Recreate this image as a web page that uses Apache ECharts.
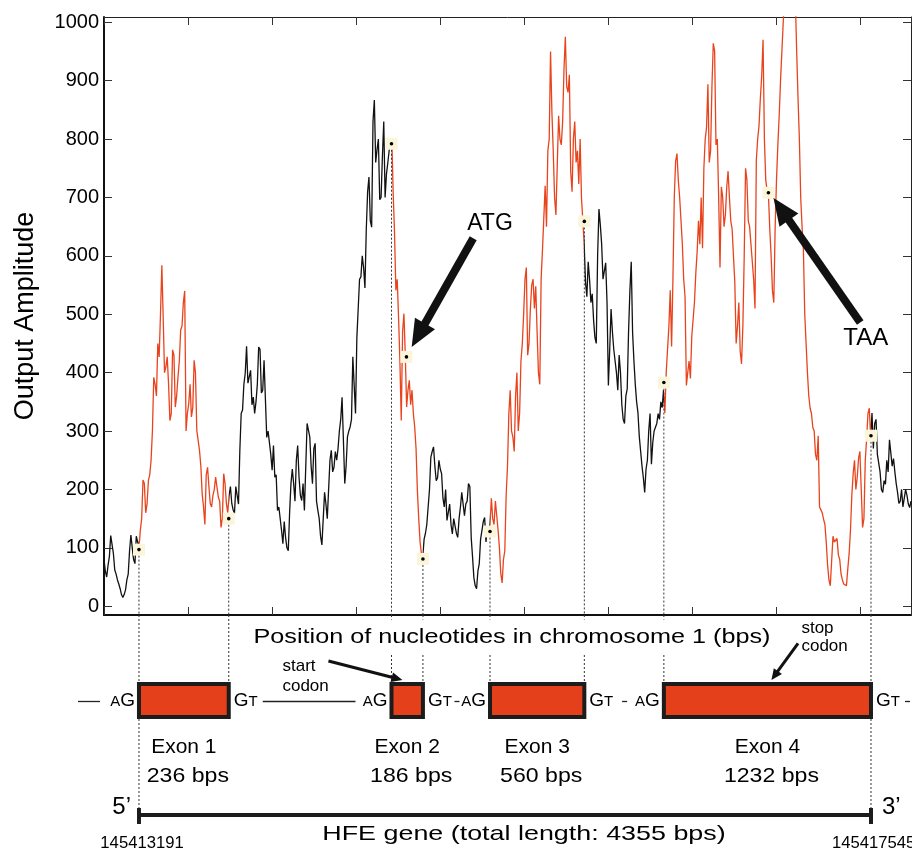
<!DOCTYPE html>
<html><head><meta charset="utf-8">
<script src="https://cdn.jsdelivr.net/npm/echarts@6/dist/echarts.min.js"></script>
<style>html,body{margin:0;padding:0;background:#fff}#c{width:912px;height:854px}</style>
</head><body><div id="c"></div>
<script>
// ---------- data ----------
const STEP = 8;                // bp between signal samples (x = index * STEP, offset from axis start)
const X_MAX = 4800;
const SIGNAL = [
 // upstream
 80,60,50,70,85,121,118,90,62,55,45,38,30,20,15,20,28,45,55,95,122,100,80,73,120,110,100,
 // exon 1
 130,150,216,210,160,175,215,225,250,300,392,380,360,450,427,500,584,495,400,410,427,380,318,330,439,430,341,360,392,420,473,480,520,540,300,330,347,380,324,340,421,400,301,300,267,240,192,170,140,225,238,205,176,170,190,200,221,220,187,180,135,150,227,210,176,160,
 // intron 1
 190,205,176,165,159,205,190,175,267,330,336,380,399,445,382,385,404,345,358,330,350,380,444,440,365,370,421,420,289,300,300,260,233,275,221,225,164,170,170,130,107,145,118,100,95,160,210,235,210,180,250,275,221,190,181,210,164,165,313,310,290,240,210,270,279,180,164,150,120,105,107,195,175,150,152,250,267,230,238,265,250,270,300,320,358,360,210,240,290,300,307,320,427,425,330,460,510,560,564,600,580,545,645,710,735,660,649,830,867,760,782,800,696,700,770,830,700,740,759,780,
 // exon 2
 793,800,707,640,541,560,495,420,318,470,501,430,341,370,387,345,370,330,307,270,198,150,110,90,
 // intron 2
 85,115,125,140,170,200,255,265,273,240,215,220,250,235,227,185,170,200,147,150,175,140,124,150,152,125,118,150,170,195,198,155,175,180,210,205,118,85,49,35,30,60,73,115,130,145,152,110,135,130,
 // exon 3
 140,185,150,140,180,155,130,100,56,40,80,95,190,240,330,370,300,290,265,360,400,300,330,420,449,500,560,580,430,450,509,550,560,510,548,470,400,380,560,610,665,720,650,780,800,950,847,780,700,670,756,840,800,790,830,920,975,890,880,910,744,710,800,830,760,780,723,800,700,660,
 // intron 3
 620,555,530,590,560,520,535,490,460,450,600,680,653,620,560,560,588,520,378,440,509,470,440,420,400,370,430,400,345,320,313,360,372,470,540,590,469,420,380,350,331,290,265,240,220,195,235,250,300,330,243,280,300,300,313,330,320,350,
 // exon 4
 340,370,331,400,440,480,541,445,560,700,762,775,729,700,660,620,560,530,378,400,420,390,462,460,520,570,607,660,620,700,613,750,800,820,894,760,780,890,964,950,790,800,700,580,718,700,650,670,718,745,700,660,646,600,555,450,480,520,437,415,480,600,750,730,660,650,620,620,560,510,764,800,823,870,908,970,800,730,712,705,646,600,540,520,650,730,790,840,900,950,1000,1040,1060,1060,1060,1060,1060,1050,1050,1040,950,870,800,700,650,610,500,450,400,360,339,330,306,300,260,250,292,170,165,160,149,140,109,70,45,35,34,120,110,110,116,88,80,55,45,38,40,35,64,90,130,190,227,250,200,220,253,265,200,135,150,250,286,330,339,290,
 // downstream
 331,270,313,320,260,245,230,200,195,215,209,250,230,285,286,240,253,230,210,195,176,180,200,170,169,200,190,175,169,180
];
const EXON_NAMES = ['Exon 1', 'Exon 2', 'Exon 3', 'Exon 4'];
const EXON_LENGTHS = ['236 bps', '186 bps', '560 bps', '1232 bps'];
const EXON_START = [208, 1710, 2296, 3330];
const EXON_END = [742, 1897, 2857, 4562];
const EXON_START_VALUES = [97, 792, 128, 383];
const EXON_END_VALUES = [150, 81, 659, 292];
const CODON_LABELS = ['ATG', 'TAA'];
const CODON_NAMES = ['start\ncodon', 'stop\ncodon'];
const CODON_POS = [1799, 3952];
const CODON_VALUES = [427, 708];
const ARROW_TAIL = [[2196, 630], [4498, 486]];
const ARROW_TIP = [[1830, 444], [3982, 699]];
const LABEL_AT = [[2296, 655], [4531, 459]];
const Y_TICKS = [0, 100, 200, 300, 400, 500, 600, 700, 800, 900, 1000];
const GENE_START_LABEL = '145413191';
const GENE_END_LABEL = '145417545';
const X_TITLE = 'Position of nucleotides in chromosome 1 (bps)';
const GENE_TITLE = 'HFE gene (total length: 4355 bps)';
const Y_TITLE = 'Output Amplitude';

// ---------- styles ----------
const FONT = "'Liberation Sans', Arial, Helvetica, sans-serif";
const RED = '#e8431d', RED_FILL = '#e4401b', BLACK = '#111111';
const f = s => s + 'px ' + FONT;
function txt(x, y, text, size, align, opt) {
  opt = opt || {};
  const style = Object.assign({
    text: text, font: f(size), fill: '#000',
    align: align, textAlign: align, verticalAlign: 'middle', textVerticalAlign: 'middle'
  }, opt.style || {});
  return { type: 'text', x: x, y: y, scaleX: opt.scaleX || 1, z2: opt.z2 || 10, style: style };
}
function arrow(p0, p1, w, hl, hw, color) {
  const dx = p1[0] - p0[0], dy = p1[1] - p0[1], L = Math.hypot(dx, dy);
  const ux = dx / L, uy = dy / L, nx = -uy, ny = ux;
  const bx = p1[0] - ux * hl, by = p1[1] - uy * hl;
  return [
    { type: 'line', shape: { x1: p0[0], y1: p0[1], x2: bx + ux * 2, y2: by + uy * 2 }, style: { stroke: color, lineWidth: w }, z2: 20 },
    { type: 'polygon', shape: { points: [[p1[0], p1[1]], [bx + nx * hw / 2, by + ny * hw / 2], [bx - nx * hw / 2, by - ny * hw / 2]] }, style: { fill: color }, z2: 20 }
  ];
}

// pieces for colouring the signal (red inside exons)
const pieces = [];
EXON_START.forEach((s, i) => {
  pieces.push(i === 0 ? { lt: s, color: BLACK } : { gt: EXON_END[i - 1], lt: s, color: BLACK });
  pieces.push({ gte: s, lte: EXON_END[i], color: RED });
});
pieces.push({ gt: EXON_END[EXON_END.length - 1], color: BLACK });

const markerData = [];
EXON_START.forEach((s, i) => { markerData.push([s, EXON_START_VALUES[i], 1]); markerData.push([EXON_END[i], EXON_END_VALUES[i], 1]); });
CODON_POS.forEach((p, i) => markerData.push([p, CODON_VALUES[i], 0]));

const arrowData = ARROW_TAIL.map((t, i) => [t[0], t[1], ARROW_TIP[i][0], ARROW_TIP[i][1], LABEL_AT[i][0], LABEL_AT[i][1], i]);
const exonData = EXON_START.map((s, i) => [s, EXON_END[i], i]);

const chart = echarts.init(document.getElementById('c'), null, { renderer: 'canvas' });
const tickStyle = { show: true, inside: true, length: 8, lineStyle: { color: '#333', width: 1 } };

chart.setOption({
  animation: false,
  backgroundColor: '#fff',
  grid: [
    { left: 104, top: 17, width: 807, height: 598 },
    { left: 104, top: 615, width: 807, height: 239 }
  ],
  xAxis: [
    { gridIndex: 0, type: 'value', min: 0, max: X_MAX, interval: 500, position: 'bottom',
      axisLine: { show: true, onZero: false, lineStyle: { color: '#111', width: 2 } },
      axisTick: tickStyle, axisLabel: { show: false }, splitLine: { show: false } },
    { gridIndex: 0, type: 'value', min: 0, max: X_MAX, interval: 500, position: 'top',
      axisLine: { show: true, onZero: false, lineStyle: { color: '#222', width: 1 } },
      axisTick: tickStyle, axisLabel: { show: false }, splitLine: { show: false } },
    { gridIndex: 1, type: 'value', min: 0, max: X_MAX, show: false }
  ],
  yAxis: [
    { gridIndex: 0, type: 'value', min: -15, max: 1009, position: 'left',
      name: Y_TITLE, nameLocation: 'middle', nameGap: 65,
      nameTextStyle: { fontSize: 27, fontFamily: FONT, color: '#000' },
      axisLine: { show: true, onZero: false, lineStyle: { color: '#111', width: 2 } },
      axisTick: Object.assign({ customValues: Y_TICKS }, tickStyle),
      axisLabel: { customValues: Y_TICKS, formatter: v => String(v), fontSize: 20, fontFamily: FONT, color: '#000', margin: 5 },
      splitLine: { show: false } },
    { gridIndex: 0, type: 'value', min: -15, max: 1009, position: 'right',
      axisLine: { show: true, onZero: false, lineStyle: { color: '#222', width: 1 } },
      axisTick: Object.assign({ customValues: Y_TICKS }, tickStyle),
      axisLabel: { show: false }, splitLine: { show: false } },
    { gridIndex: 1, type: 'value', min: 0, max: 239, inverse: true, show: false }
  ],
  visualMap: { type: 'piecewise', show: false, dimension: 0, seriesIndex: 0, pieces: pieces },
  series: [
    { type: 'line', xAxisIndex: 0, yAxisIndex: 0, symbol: 'none', clip: true, z: 2,
      lineStyle: { width: 1.3 }, data: SIGNAL.map((v, i) => [i * STEP, v]) },
    { type: 'custom', xAxisIndex: 0, yAxisIndex: 0, z: 5, data: markerData,
      renderItem: function (params, api) {
        const p = api.coord([api.value(0), api.value(1)]);
        const bottom = params.coordSys.y + params.coordSys.height;
        const ch = [];
        if (api.value(2)) ch.push({ type: 'line', shape: { x1: p[0], y1: p[1] + 6, x2: p[0], y2: bottom }, style: { stroke: '#333', lineWidth: 1, lineDash: [2, 2] } });
        ch.push({ type: 'rect', shape: { x: p[0] - 6, y: p[1] - 6, width: 12, height: 12 }, style: { fill: '#fbf5da' } });
        ch.push({ type: 'circle', shape: { cx: p[0], cy: p[1], r: 1.8 }, style: { fill: '#000' } });
        return { type: 'group', children: ch };
      } },
    { type: 'custom', xAxisIndex: 0, yAxisIndex: 0, z: 6, data: arrowData,
      renderItem: function (params, api) {
        const t = api.coord([api.value(0), api.value(1)]);
        const h = api.coord([api.value(2), api.value(3)]);
        const l = api.coord([api.value(4), api.value(5)]);
        const k = api.value(6);
        const ch = arrow(t, h, 8, 27, 23, '#111');
        ch.push(txt(l[0], l[1], CODON_LABELS[k], k === 0 ? 23 : 24, 'center'));
        return { type: 'group', children: ch };
      } },
    { type: 'custom', xAxisIndex: 2, yAxisIndex: 2, z: 3, data: exonData,
      renderItem: function (params, api) {
        const k = api.value(2);
        const x0 = api.coord([api.value(0), 0])[0];
        const x1 = api.coord([api.value(1), 0])[0];
        const Y = v => api.coord([0, v])[1];
        const last = EXON_START.length - 1;
        const ch = [];
        const dot = (x, a, b) => ({ type: 'line', shape: { x1: x, y1: Y(a), x2: x, y2: Y(b) }, style: { stroke: '#333', lineWidth: 1, lineDash: [2, 2] }, z2: 1 });
        const seg = (a, b) => ({ type: 'line', shape: { x1: a, y1: Y(86.5), x2: b, y2: Y(86.5) }, style: { stroke: '#222', lineWidth: 1.3 }, z2: 2 });
        ch.push(dot(x0, 0, 67), dot(x1, 0, 67));
        if (k === 0) ch.push(dot(x0, 104, 200));
        if (k === last) ch.push(dot(x1, 104, 200));
        ch.push({ type: 'rect', shape: { x: x0, y: Y(69), width: x1 - x0, height: 33 }, style: { fill: RED_FILL, stroke: '#1c1c1c', lineWidth: 4 }, z2: 5 });
        const rich = { s: { font: f(15), verticalAlign: 'bottom', padding: [0, 0, 1, 0] }, b: { font: f(19), verticalAlign: 'bottom' } };
        ch.push(txt(x0 - 4, Y(86), '{s|A}{b|G}', 19, 'right', { style: { rich: rich } }));
        ch.push(txt(x1 + 5, Y(86), '{b|G}{s|T}', 19, 'left', { style: { rich: rich } }));
        if (k === 0) ch.push(seg(x0 - 61, x0 - 39));
        if (k < last) {
          const nx = api.coord([EXON_START[k + 1], 0])[0];
          const a = x1 + 34, b = nx - 36;
          if (b - a > 40) ch.push(seg(a, b));
          else { const m = ((x1 + 31) + (nx - 30)) / 2; ch.push(seg(m - 2.5, m + 2.5)); }
        } else {
          ch.push(seg(x1 + 34, x1 + 39));
        }
        const cx = (x0 + x1) / 2;
        ch.push(txt(cx, Y(132.5), EXON_NAMES[k], 21, 'center'));
        ch.push(txt(cx + 4, Y(161), EXON_LENGTHS[k], 21, 'center', { scaleX: 1.1 }));
        return { type: 'group', children: ch };
      } },
    { type: 'custom', xAxisIndex: 2, yAxisIndex: 2, z: 4, data: [[0, 0]],
      renderItem: function (params, api) {
        const X = v => api.coord([v, 0])[0];
        const Y = v => api.coord([0, v])[1];
        const gs = X(EXON_START[0]), ge = X(EXON_END[EXON_END.length - 1]);
        const mid = (gs + ge) / 2;
        const ch = [];
        ch.push(txt(mid + 7, Y(22), X_TITLE, 21, 'center', { scaleX: 1.2, style: { backgroundColor: '#fff', padding: [7, 4, 7, 4] } }));
        ch.push({ type: 'line', shape: { x1: gs, y1: Y(200), x2: ge, y2: Y(200) }, style: { stroke: '#1c1c1c', lineWidth: 4 } });
        ch.push({ type: 'rect', shape: { x: gs - 2, y: Y(193), width: 4, height: 16 }, style: { fill: '#1c1c1c' } });
        ch.push({ type: 'rect', shape: { x: ge - 2, y: Y(193), width: 4, height: 16 }, style: { fill: '#1c1c1c' } });
        ch.push(txt(gs - 8, Y(192), '5\u2019', 24, 'right'));
        ch.push(txt(ge + 11, Y(192), '3\u2019', 24, 'left'));
        ch.push(txt(mid + 19, Y(219.5), GENE_TITLE, 21, 'center', { scaleX: 1.28 }));
        ch.push(txt(gs - 38.6, Y(228.5), GENE_START_LABEL, 16, 'left', { scaleX: 1.04 }));
        ch.push(txt(ge - 39, Y(228.5), GENE_END_LABEL, 16, 'left', { scaleX: 1.04 }));
        // codon annotations
        const st = X(CODON_POS[0]);
        ch.push(txt(st - 124, Y(61), CODON_NAMES[0], 17, 'left', { style: { lineHeight: 20 } }));
        Array.prototype.push.apply(ch, arrow([st - 78, Y(46)], [st - 4, Y(65)], 3, 11, 10, '#111'));
        const sp = X(CODON_POS[1]);
        ch.push(txt(sp + 33, Y(22.5), CODON_NAMES[1], 17, 'left', { style: { lineHeight: 18 } }));
        Array.prototype.push.apply(ch, arrow([sp + 29.6, Y(28.3)], [sp + 3, Y(65)], 3, 11, 10, '#111'));
        return { type: 'group', children: ch };
      } }
  ]
});
</script>
</body></html>
